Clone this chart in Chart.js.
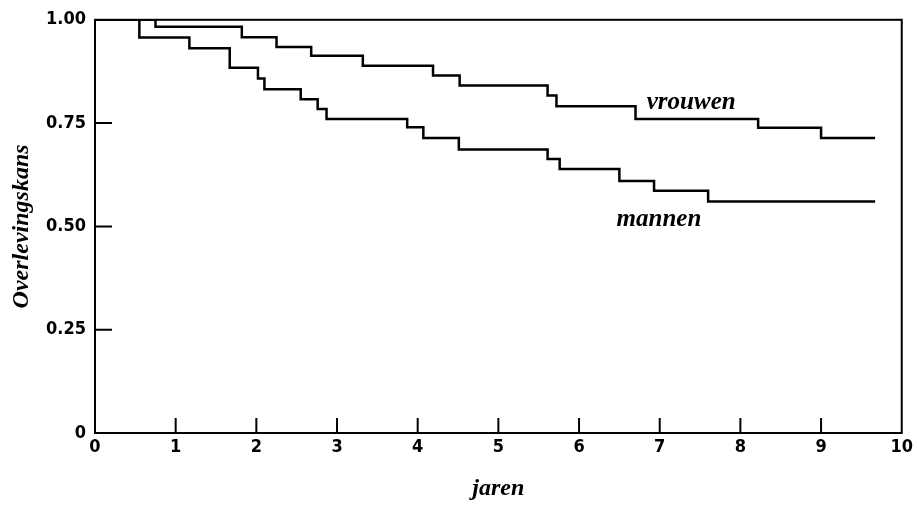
<!DOCTYPE html>
<html>
<head>
<meta charset="utf-8">
<script src="https://cdn.jsdelivr.net/npm/chart.js@4/dist/chart.umd.min.js"></script>
<style>
  html, body { margin: 0; padding: 0; background: #fff; }
</style>
</head>
<body>
<canvas id="grafiek" width="917" height="515"></canvas>
<script>
// overlevingscurves (Kaplan-Meier)
const mannenTijd = [0, 0.55, 1.17, 1.67, 2.02, 2.10, 2.55, 2.76, 2.87, 3.87, 4.07, 4.51, 5.61, 5.76, 6.50, 6.93, 7.60, 9.67];
const mannenKans = [1.00, 0.957, 0.931, 0.884, 0.858, 0.832, 0.808, 0.784, 0.760, 0.740, 0.714, 0.686, 0.663, 0.639, 0.610, 0.586, 0.560, 0.560];

const vrouwenTijd = [0, 0.75, 1.82, 2.25, 2.68, 3.32, 4.19, 4.52, 5.61, 5.72, 6.70, 8.22, 9.00, 9.67];
const vrouwenKans = [1.00, 0.983, 0.958, 0.934, 0.913, 0.889, 0.865, 0.841, 0.817, 0.791, 0.760, 0.739, 0.714, 0.714];

const xTicks = [0, 1, 2, 3, 4, 5, 6, 7, 8, 9, 10];
const yTicks = [0, 0.25, 0.5, 0.75, 1];

// curve-labels: [tekst, jaar, kans]
const labels = [["vrouwen", 7.39, 0.80], ["mannen", 6.99, 0.517]];

const tickFont = { family: "'DejaVu Sans Condensed', sans-serif", weight: "bold", size: 18 };
const titleFont = { family: "Liberation Serif", weight: "bold", style: "italic", size: 24 };

function punten(t, k) {
    return t.map((x, i) => ({ x, y: k[i] }));
}

// kader + naar binnen gerichte streepjes + curve-namen
const kader = {
    id: 'kader',
    afterDraw(chart) {
        const ctx = chart.ctx;
        const a = chart.chartArea;
        const sx = chart.scales.x, sy = chart.scales.y;
        ctx.save();
        ctx.strokeStyle = '#000';
        ctx.lineWidth = 2;
        ctx.strokeRect(a.left, a.top, a.right - a.left, a.bottom - a.top);
        ctx.beginPath();
        xTicks.slice(1, -1).forEach(v => {
            let px = sx.getPixelForValue(v);
            ctx.moveTo(px, a.bottom);
            ctx.lineTo(px, a.bottom - 15);
        });
        yTicks.slice(1, -1).forEach(v => {
            let py = sy.getPixelForValue(v);
            ctx.moveTo(a.left, py);
            ctx.lineTo(a.left + 17, py);
        });
        ctx.stroke();

        ctx.fillStyle = '#000';
        ctx.font = 'italic bold 25px "Liberation Serif"';
        ctx.textAlign = 'center';
        ctx.textBaseline = 'middle';
        labels.forEach(([tekst, x, y]) => {
            ctx.fillText(tekst, sx.getPixelForValue(x), sy.getPixelForValue(y));
        });
        ctx.restore();
    }
};

new Chart(document.getElementById("grafiek"), {
    type: 'line',
    data: {
        datasets: [
            { label: "mannen", data: punten(mannenTijd, mannenKans) },
            { label: "vrouwen", data: punten(vrouwenTijd, vrouwenKans) }
        ]
    },
    options: {
        responsive: false,
        animation: false,
        layout: { padding: { top: 15, right: 14, left: 0, bottom: 0 } },
        elements: {
            line: { borderColor: '#000', borderWidth: 2.5, stepped: 'before', fill: false },
            point: { radius: 0 }
        },
        plugins: { legend: { display: false }, tooltip: { enabled: false } },
        scales: {
            x: {
                type: 'linear',
                min: 0, max: 10,
                afterFit: s => { s.height = 82; },
                afterBuildTicks: s => { s.ticks = xTicks.map(v => ({ value: v })); },
                grid: { drawOnChartArea: false, drawTicks: false },
                border: { display: false },
                ticks: { color: '#000', font: tickFont, padding: 4, maxRotation: 0 },
                title: { display: true, text: 'jaren', color: '#000', font: titleFont, padding: { top: 0, bottom: 12 } }
            },
            y: {
                min: 0, max: 1,
                afterFit: s => { s.width = 95; },
                afterBuildTicks: s => { s.ticks = yTicks.map(v => ({ value: v })); },
                grid: { drawOnChartArea: false, drawTicks: false },
                border: { display: false },
                ticks: {
                    color: '#000', font: tickFont, padding: 9,
                    callback: v => v === 0 ? '0' : v.toFixed(2)
                },
                title: { display: true, text: 'Overlevingskans', color: '#000', font: titleFont, padding: { top: 7, bottom: 0 } }
            }
        }
    },
    plugins: [kader]
});
</script>
</body>
</html>
